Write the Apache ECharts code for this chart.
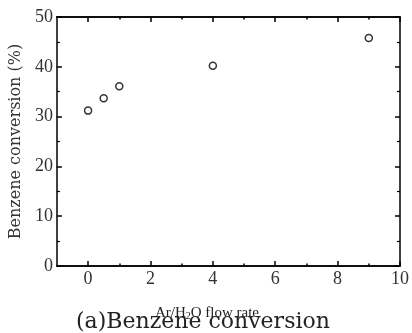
<!DOCTYPE html>
<html>
<head>
<meta charset="utf-8">
<script src="https://cdn.jsdelivr.net/npm/echarts@6/dist/echarts.min.js"></script>
<style>
  html, body { margin: 0; padding: 0; background: #fff; }
  #chart { width: 412px; height: 333px; }
</style>
</head>
<body>
<div id="chart"></div>
<script>
// Ar/H2O flow rate vs benzene conversion (%)
var flowRate = [0, 0.5, 1, 4, 9];
var conversion = [31.2, 33.7, 36.1, 40.2, 45.8];
var xMajorTicks = [0, 2, 4, 6, 8, 10];
var xMinorTicks = [1, 3, 5, 7, 9];

var serif = 'Liberation Serif';
var chart = echarts.init(document.getElementById('chart'));

function xAxisBase(pos, ticks, len, labels) {
    return {
        type: 'value',
        position: pos,
        min: -1,
        max: 10,
        axisLine: { show: true, onZero: false, lineStyle: { color: '#000', width: 1.5 } },
        axisTick: { show: true, inside: true, length: len, customValues: ticks, lineStyle: { color: '#000', width: 1.5 } },
        axisLabel: labels ? {
            show: true, customValues: ticks, margin: 4,
            fontFamily: serif, fontSize: 18, color: '#333'
        } : { show: false },
        splitLine: { show: false }
    };
}

function yAxisBase(pos, labels) {
    return {
        type: 'value',
        position: pos,
        min: 0,
        max: 50,
        interval: 10,
        axisLine: { show: true, onZero: false, lineStyle: { color: '#000', width: 1.5 } },
        axisTick: { show: true, inside: true, length: 5, lineStyle: { color: '#000', width: 1.5 } },
        minorTick: { show: true, splitNumber: 2, length: 3, lineStyle: { color: '#000', width: 1.2 } },
        axisLabel: labels ? { show: true, margin: 4, fontFamily: serif, fontSize: 18, color: '#333' } : { show: false },
        splitLine: { show: false }
    };
}

var xBottom = xAxisBase('bottom', xMajorTicks, 5, true);
xBottom.name = 'Ar/H{sub|2}O flow rate';
xBottom.nameLocation = 'middle';
xBottom.nameGap = 39;
xBottom.nameTextStyle = {
    fontFamily: serif, fontSize: 15, color: '#222', padding: [0, 43, 0, 0],
    rich: { sub: { fontFamily: serif, fontSize: 10, color: '#222', verticalAlign: 'bottom', padding: [6, 0, 0, 0] } }
};
var xBottomMinor = xAxisBase('bottom', xMinorTicks, 2.5, false);
var xTop = xAxisBase('top', xMajorTicks, 5, false);
var xTopMinor = xAxisBase('top', xMinorTicks, 2.5, false);

var yLeft = yAxisBase('left', true);
yLeft.name = 'Benzene conversion (%)';
yLeft.nameLocation = 'middle';
yLeft.nameGap = 32;
yLeft.nameTextStyle = { fontFamily: 'DejaVu Serif', fontSize: 16, color: '#333' };
var yRight = yAxisBase('right', false);

var option = {
    animation: false,
    backgroundColor: '#fff',
    title: {
        text: '(a)Benzene conversion',
        left: 71,
        top: 306,
        textStyle: { fontFamily: 'DejaVu Serif', fontSize: 22, fontWeight: 'normal', color: '#222' }
    },
    grid: { left: 56, right: 9, top: 17, bottom: 67 },
    xAxis: [xBottom, xBottomMinor, xTop, xTopMinor],
    yAxis: [yLeft, yRight],
    series: [{
        type: 'scatter',
        xAxisIndex: 0,
        yAxisIndex: 0,
        symbol: 'circle',
        symbolSize: 7,
        itemStyle: { color: '#fff', borderColor: '#000', borderWidth: 1.5 },
        data: flowRate.map(function (x, i) { return [x, conversion[i]]; })
    }]
};

chart.setOption(option);
</script>
</body>
</html>
